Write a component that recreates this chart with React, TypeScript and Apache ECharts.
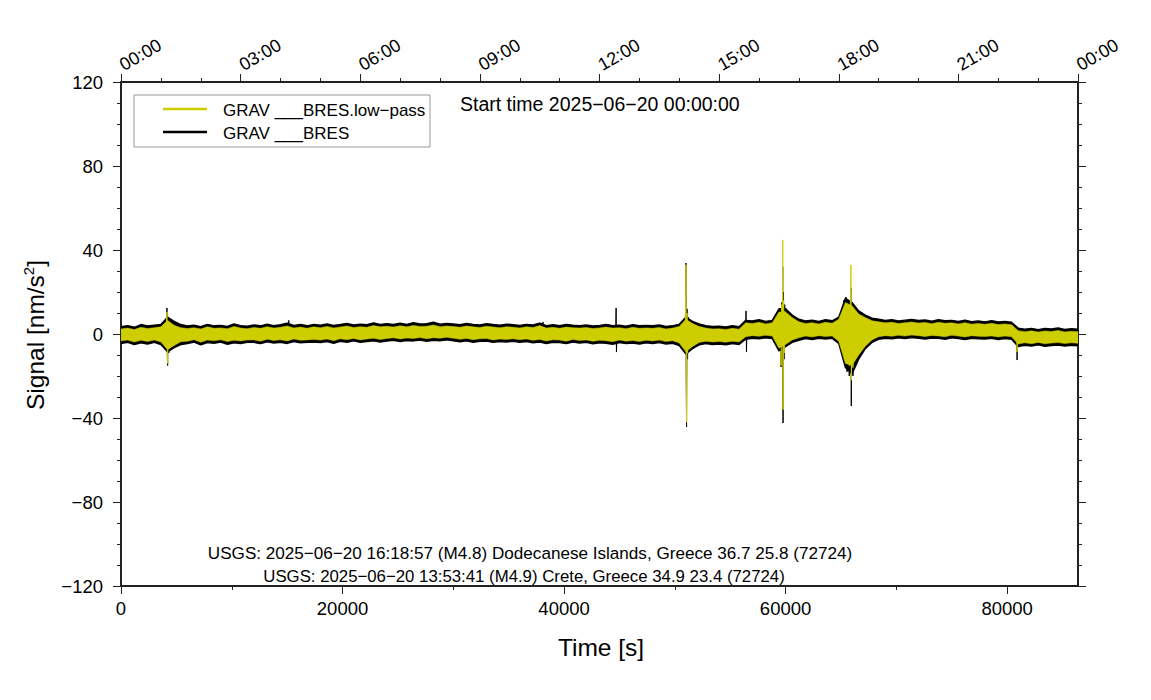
import React, { useEffect, useRef } from "react";
import * as echarts from "echarts";

// ---------- data ----------
const T_MIN = 0;
const T_MAX = 86400;
const STEP = 600; // seconds between envelope samples

const xMajorTicks = [0, 20000, 40000, 60000, 80000];
const xMinorTicks = [10000, 30000, 50000, 70000];
const topTickLabels = ["00:00", "03:00", "06:00", "09:00", "12:00", "15:00", "18:00", "21:00", "00:00"];

// envelope of the raw trace (black), nm/s^2, one value every STEP seconds
const blackHi = [
  3.5, 4.0, 3.2, 4.5, 3.8, 4.2, 4.5, 8.0, 6.0, 4.5,
  3.8, 4.2, 3.5, 4.6, 3.9, 4.1, 3.6, 4.8, 4.0, 3.7,
  4.3, 3.9, 4.7, 4.0, 4.4, 5.2, 4.1, 4.5, 3.9, 4.6,
  4.2, 4.8, 4.1, 4.5, 5.0, 4.3, 4.7, 4.4, 5.3, 4.6,
  4.9, 4.5, 5.1, 4.6, 5.4, 4.8, 4.9, 5.6, 4.7, 5.0,
  4.8, 4.4, 5.0, 4.6, 4.3, 4.9, 4.5, 4.2, 4.7, 4.4,
  4.1, 4.6, 4.3, 5.2, 4.0, 4.4, 3.9, 4.5, 4.2, 4.0,
  4.3, 3.8, 4.1, 4.5, 4.0, 4.2, 3.7, 4.4, 3.9, 4.1,
  3.9, 4.3, 3.6, 4.0, 4.6, 8.0, 6.0, 4.8, 4.0, 3.6,
  3.7, 3.4, 3.9, 3.5, 6.5, 6.2, 6.8, 6.0, 6.5, 12.0,
  12.0, 9.0, 7.0, 6.2, 6.6, 6.0, 6.8, 6.3, 8.0, 17.0,
  15.0, 11.0, 9.0, 7.5, 7.0, 6.5, 6.8, 6.2, 6.6, 6.9,
  6.4, 6.7, 6.1, 6.8, 6.3, 6.5, 6.0, 6.6, 5.9, 6.2,
  5.8, 6.3, 5.7, 6.0, 5.6, 2.8, 2.3, 2.7, 2.1, 2.6,
  2.4, 2.9, 2.2, 2.5, 2.3,
];
const blackLo = [
  -4.5, -4.0, -5.0, -4.2, -4.8, -4.0, -5.0, -8.5, -6.5, -5.0,
  -4.6, -3.9, -5.2, -4.1, -4.4, -3.8, -4.9, -4.2, -4.5, -4.0,
  -4.0, -4.6, -3.7, -4.3, -3.9, -4.5, -3.6, -4.2, -4.0, -3.8,
  -4.1, -3.6, -4.4, -3.5, -3.9, -3.3, -4.0, -3.6, -3.2, -3.8,
  -3.4, -3.0, -3.6, -3.1, -3.3, -2.9, -3.5, -3.0, -3.2, -2.8,
  -3.2, -3.7, -3.3, -3.9, -3.5, -3.4, -4.0, -3.6, -3.8, -3.5,
  -3.9, -3.6, -4.2, -3.8, -4.5, -3.9, -4.1, -4.6, -3.8, -4.3,
  -4.0, -4.7, -4.2, -4.4, -4.9, -4.1, -4.6, -4.3, -4.8, -4.2,
  -4.5, -4.1, -4.8, -4.4, -5.5, -9.5, -7.0, -5.2, -4.6, -5.0,
  -4.8, -5.1, -4.6, -5.0, -2.5, -2.0, -2.3, -1.8, -2.2, -8.0,
  -6.0, -4.0, -3.0, -2.2, -2.6, -2.0, -2.4, -2.1, -4.5, -16.0,
  -19.0, -12.0, -7.0, -4.0, -2.5, -2.0, -2.3, -1.8, -2.2, -1.7,
  -2.0, -2.4, -1.9, -2.1, -2.5, -1.8, -2.2, -2.6, -2.0, -2.3,
  -2.4, -2.1, -2.6, -2.2, -2.5, -6.0, -5.4, -5.8, -5.2, -5.9,
  -5.5, -5.3, -5.7, -5.4, -5.6,
];

// envelope of the low-pass trace (yellow)
const yellowHi = [
  2.4, 2.8, 2.1, 3.2, 2.6, 3.0, 3.4, 6.5, 4.2, 3.0,
  2.6, 3.0, 2.4, 3.4, 2.7, 2.9, 2.5, 3.6, 2.8, 2.5,
  3.1, 2.7, 3.5, 2.8, 3.2, 3.8, 2.9, 3.3, 2.7, 3.4,
  3.0, 3.6, 2.9, 3.3, 3.8, 3.1, 3.5, 3.2, 4.0, 3.4,
  3.7, 3.3, 3.9, 3.4, 4.1, 3.6, 3.7, 4.3, 3.5, 3.8,
  3.6, 3.2, 3.8, 3.4, 3.1, 3.7, 3.3, 3.0, 3.5, 3.2,
  2.9, 3.4, 3.1, 4.0, 2.8, 3.2, 2.7, 3.3, 3.0, 2.8,
  3.1, 2.6, 2.9, 3.3, 2.8, 3.0, 2.5, 3.2, 2.7, 2.9,
  2.7, 3.1, 2.4, 2.8, 3.6, 7.0, 5.0, 3.6, 2.8, 2.4,
  2.5, 2.2, 2.7, 2.3, 5.3, 5.0, 5.6, 4.8, 5.3, 10.5,
  10.5, 7.8, 5.8, 5.0, 5.4, 4.8, 5.6, 5.1, 7.0, 15.0,
  13.5, 9.5, 7.8, 6.3, 5.8, 5.3, 5.6, 5.0, 5.4, 5.7,
  5.2, 5.5, 4.9, 5.6, 5.1, 5.3, 4.8, 5.4, 4.7, 5.0,
  4.6, 5.1, 4.5, 4.8, 4.4, 1.6, 1.1, 1.5, 0.9, 1.4,
  1.2, 1.7, 1.0, 1.3, 1.1,
];
const yellowLo = [
  -3.3, -2.9, -3.8, -3.0, -3.6, -2.8, -3.8, -7.5, -5.5, -3.7,
  -3.4, -2.7, -3.9, -2.9, -3.2, -2.7, -3.6, -3.0, -3.3, -2.8,
  -2.8, -3.4, -2.5, -3.1, -2.7, -3.3, -2.4, -3.0, -2.8, -2.6,
  -2.9, -2.4, -3.2, -2.3, -2.7, -2.1, -2.8, -2.4, -2.0, -2.6,
  -2.2, -1.8, -2.4, -1.9, -2.1, -1.7, -2.3, -1.8, -2.0, -1.6,
  -2.0, -2.5, -2.1, -2.7, -2.3, -2.2, -2.8, -2.4, -2.6, -2.3,
  -2.7, -2.4, -3.0, -2.6, -3.3, -2.7, -2.9, -3.4, -2.6, -3.1,
  -2.8, -3.5, -3.0, -3.2, -3.7, -2.9, -3.4, -3.1, -3.6, -3.0,
  -3.3, -2.9, -3.6, -3.2, -4.3, -8.5, -6.0, -4.0, -3.4, -3.8,
  -3.6, -3.9, -3.4, -3.8, -1.3, -0.8, -1.1, -0.6, -1.0, -6.8,
  -5.0, -2.8, -1.8, -1.0, -1.4, -0.8, -1.2, -0.9, -3.5, -14.0,
  -15.0, -10.0, -5.8, -2.8, -1.3, -0.8, -1.1, -0.6, -1.0, -0.5,
  -0.8, -1.2, -0.7, -0.9, -1.3, -0.6, -1.0, -1.4, -0.8, -1.1,
  -1.2, -0.9, -1.4, -1.0, -1.3, -4.8, -4.2, -4.6, -4.0, -4.7,
  -4.3, -4.1, -4.5, -4.2, -4.4,
];

// sharp arrivals, [time s, value nm/s^2]
const blackSpikes: number[][][] = [
  [[3950, 3], [4050, -6], [4120, 9], [4150, 12.4], [4180, -10], [4210, -15], [4260, 7], [4320, -9], [4400, 6], [4480, -5]],
  [[15100, 2], [15150, 6.5], [15200, 1]],
  [[38050, 2], [38100, 5.7], [38150, 0]],
  [[44650, -2], [44700, 12.4], [44730, -8.6], [44780, 0]],
  [[50850, 4], [50930, -8], [50980, 20], [51000, 33.8], [51030, -20], [51060, -44.3], [51100, 12], [51150, -12], [51220, 8], [51300, -7]],
  [[56380, 2], [56430, 11], [56470, -8.6], [56520, 6]],
  [[59450, 7], [59550, -10], [59600, -15.7], [59650, 15], [59700, -6], [59740, 32], [59770, -42.4], [59810, 20], [59860, -12], [59920, 14], [60000, -6], [60080, 12], [60160, -4]],
  [[65050, 12], [65150, -11], [65250, 16], [65350, -14], [65450, 17.6], [65550, -18], [65650, 15], [65750, -20], [65850, 16], [65900, 22], [65930, -34.3], [65980, 12], [66080, -20], [66180, 13], [66300, -15], [66450, 10], [66600, -12], [66750, 9], [66900, -8], [67100, 8.5], [67300, -5]],
  [[80850, 3], [80900, -12.4], [80950, 1]],
];
const yellowSpikes: number[][][] = [
  [[4050, -4], [4120, 8], [4150, 10.5], [4180, -8], [4210, -14], [4260, 5], [4320, -7]],
  [[50930, -6], [50980, 18], [51000, 33], [51030, -18], [51060, -42], [51100, 10], [51150, -9], [51220, 6]],
  [[59550, -8], [59600, -15], [59650, 14], [59700, -5], [59745, 44.8], [59775, -36], [59820, 16], [59870, -9], [59930, 11]],
  [[65350, -12], [65450, 14], [65550, -14], [65650, 13], [65750, -15], [65860, 18], [65900, 32.9], [65940, -22], [66000, 10], [66080, -16], [66180, 11], [66300, -12]],
  [[80880, 1], [80900, -8.6], [80930, 0]],
];

const legendNames = ["GRAV ___BRES.low\u2212pass", "GRAV ___BRES"];
const startTimeText = "Start time 2025\u221206\u221220 00:00:00";
const eventLines = [
  "USGS: 2025\u221206\u221220 16:18:57 (M4.8) Dodecanese Islands, Greece 36.7 25.8 (72724)",
  "USGS: 2025\u221206\u221220 13:53:41 (M4.9) Crete, Greece 34.9 23.4 (72724)",
];

// ---------- styling ----------
const YELLOW = "#cdcd00";
const BLACK = "#000000";
const FRAME = "#222222";
const FONT = "'Liberation Sans', Arial, Helvetica, sans-serif";

function bandSeries(hi: number[], lo: number[], color: string, z: number, edge: number) {
  return {
    type: "custom",
    xAxisIndex: 0,
    yAxisIndex: 0,
    silent: true,
    z,
    clip: true,
    encode: { x: 0, y: 1 },
    data: [[0, 0]],
    renderItem: (_p: any, api: any) => {
      const pts: number[][] = [];
      for (let i = 0; i < hi.length; i++) pts.push(api.coord([i * STEP, hi[i]]));
      for (let i = lo.length - 1; i >= 0; i--) pts.push(api.coord([i * STEP, lo[i]]));
      return {
        type: "polygon",
        shape: { points: pts },
        style: { fill: color, stroke: color, lineWidth: edge, lineJoin: "round" },
      };
    },
  };
}

function spikeSeries(lines: number[][][], color: string, z: number) {
  return lines.map((pts) => ({
    type: "line",
    xAxisIndex: 0,
    yAxisIndex: 0,
    silent: true,
    z,
    symbol: "none",
    showSymbol: false,
    data: pts,
    lineStyle: { color, width: 1 },
    itemStyle: { color },
  }));
}

const axisLineStyle = { show: true, onZero: false, lineStyle: { color: FRAME, width: 2 } };
const tickStyle = { color: FRAME, width: 1 };
const labelStyle = { color: "#000", fontFamily: FONT, fontSize: 18.5 };

export default function App() {
  const ref = useRef<HTMLDivElement>(null);
  useEffect(() => {
    if (!ref.current) return;
    const chart = echarts.init(ref.current, null, { renderer: "svg" });
    const option: any = {
      animation: false,
      backgroundColor: "#ffffff",
      grid: { left: 121, right: 73, top: 82, bottom: 114, containLabel: false },
      xAxis: [
        {
          type: "value",
          position: "bottom",
          min: T_MIN,
          max: T_MAX,
          interval: 20000,
          axisLine: axisLineStyle,
          axisTick: { show: true, length: 8, lineStyle: tickStyle, customValues: xMajorTicks },
          axisLabel: { ...labelStyle, margin: 13, customValues: xMajorTicks, formatter: (v: number) => String(v) },
          splitLine: { show: false },
        },
        {
          type: "value",
          position: "top",
          min: T_MIN,
          max: T_MAX,
          interval: 10800,
          axisLine: axisLineStyle,
          axisTick: { show: true, length: 8, lineStyle: tickStyle },
          minorTick: { show: true, splitNumber: 3, length: 4, lineStyle: tickStyle },
          axisLabel: {
            ...labelStyle,
            fontSize: 18,
            rotate: -30,
            margin: 16,
            formatter: (v: number) => topTickLabels[Math.round(v / 10800)] ?? "",
          },
          splitLine: { show: false },
        },
        {
          type: "value",
          position: "bottom",
          min: T_MIN,
          max: T_MAX,
          interval: 10000,
          axisLine: { show: false, onZero: false },
          axisTick: { show: true, length: 4, lineStyle: tickStyle, customValues: xMinorTicks },
          axisLabel: { show: false },
          splitLine: { show: false },
        },
      ],
      yAxis: [
        {
          type: "value",
          position: "left",
          min: -120,
          max: 120,
          interval: 40,
          axisLine: axisLineStyle,
          axisTick: { show: true, length: 8, lineStyle: tickStyle },
          minorTick: { show: true, splitNumber: 4, length: 4, lineStyle: tickStyle },
          axisLabel: {
            ...labelStyle,
            margin: 18,
            formatter: (v: number) => String(v).replace("-", "\u2212"),
          },
          splitLine: { show: false },
        },
        {
          type: "value",
          position: "right",
          min: -120,
          max: 120,
          interval: 40,
          axisLine: axisLineStyle,
          axisTick: { show: true, length: 8, lineStyle: tickStyle },
          minorTick: { show: true, splitNumber: 4, length: 4, lineStyle: tickStyle },
          axisLabel: { show: false },
          splitLine: { show: false },
        },
      ],
      series: [
        bandSeries(blackHi, blackLo, BLACK, 2, 1.4),
        ...spikeSeries(blackSpikes, BLACK, 3),
        bandSeries(yellowHi, yellowLo, YELLOW, 4, 0.5),
        ...spikeSeries(yellowSpikes, YELLOW, 5),
      ],
      graphic: [
        {
          type: "rect",
          shape: { x: 134, y: 95, width: 296, height: 52 },
          style: { fill: "#ffffff", stroke: "#999999", lineWidth: 1 },
          z: 10,
        },
        {
          type: "line",
          shape: { x1: 163, y1: 109, x2: 207, y2: 109 },
          style: { stroke: YELLOW, lineWidth: 2.5 },
          z: 11,
        },
        {
          type: "line",
          shape: { x1: 163, y1: 132, x2: 207, y2: 132 },
          style: { stroke: BLACK, lineWidth: 2.5 },
          z: 11,
        },
        {
          type: "text",
          x: 223,
          y: 110,
          style: { text: legendNames[0], fontFamily: FONT, fontSize: 17, fill: "#000", verticalAlign: "middle", align: "left" },
          z: 11,
        },
        {
          type: "text",
          x: 223,
          y: 133,
          style: { text: legendNames[1], fontFamily: FONT, fontSize: 17, fill: "#000", verticalAlign: "middle", align: "left" },
          z: 11,
        },
        {
          type: "text",
          x: 460,
          y: 104,
          style: { text: startTimeText, fontFamily: FONT, fontSize: 19.5, fill: "#000", verticalAlign: "middle", align: "left" },
          z: 11,
        },
        {
          type: "text",
          x: 530,
          y: 553,
          style: { text: eventLines[0], fontFamily: FONT, fontSize: 17.1, fill: "#000", verticalAlign: "middle", align: "center" },
          z: 11,
        },
        {
          type: "text",
          x: 524,
          y: 576,
          style: { text: eventLines[1], fontFamily: FONT, fontSize: 16.8, fill: "#000", verticalAlign: "middle", align: "center" },
          z: 11,
        },
        {
          type: "text",
          x: 601,
          y: 647,
          style: { text: "Time [s]", fontFamily: FONT, fontSize: 24.5, fill: "#000", verticalAlign: "middle", align: "center" },
          z: 11,
        },
        {
          type: "text",
          x: 35,
          y: 335,
          rotation: Math.PI / 2,
          style: {
            text: "{a|Signal [nm/s}{b|2}{a|]}",
            fill: "#000",
            align: "center",
            verticalAlign: "middle",
            rich: {
              a: { fontFamily: FONT, fontSize: 24.5, lineHeight: 28, fill: "#000" },
              b: { fontFamily: FONT, fontSize: 15, lineHeight: 14, verticalAlign: "top", fill: "#000" },
            },
          },
          z: 11,
        },
      ],
    };
    chart.setOption(option);
    return () => chart.dispose();
  }, []);
  return (
    <div
      ref={ref}
      style={{ position: "fixed", left: 0, top: 0, width: 1151, height: 700, background: "#fff" }}
    />
  );
}
